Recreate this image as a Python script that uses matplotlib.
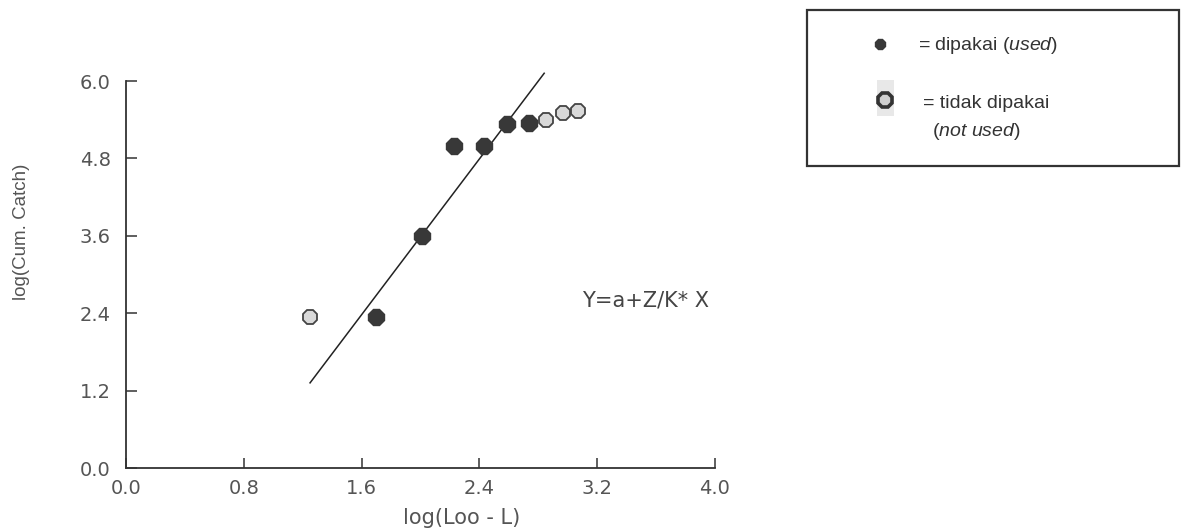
import matplotlib
matplotlib.use("Agg")
import matplotlib.pyplot as plt
from matplotlib.patches import Rectangle
from matplotlib.lines import Line2D

plt.rcParams['font.family'] = ['DejaVu Sans']
plt.rcParams['mathtext.fontset'] = 'custom'
plt.rcParams['mathtext.rm'] = 'Liberation Sans'
plt.rcParams['mathtext.it'] = 'Liberation Sans:italic'

# data
x_used = [1.70, 2.01, 2.23, 2.43, 2.59, 2.74]
y_used = [2.34, 3.60, 4.99, 4.99, 5.34, 5.35]
x_not_used = [1.25, 2.85, 2.97, 3.07]
y_not_used = [2.34, 5.39, 5.51, 5.54]
fit_x = [1.25, 2.84]
fit_y = [1.32, 6.12]
x_ticks = [0.0, 0.8, 1.6, 2.4, 3.2, 4.0]
y_ticks = [0.0, 1.2, 2.4, 3.6, 4.8, 6.0]
x_label = "log(Loo - L)"
y_label = "log(Cum. Catch)"
equation = "Y=a+Z/K* X"
legend_used = "= dipakai ($\\it{used}$)"
legend_not1 = "= tidak dipakai"
legend_not2 = "($\\it{not\\ used}$)"

W, H = 1181, 532
fig = plt.figure(figsize=(W / 100, H / 100), dpi=100)
ax = fig.add_axes([126 / W, 1 - 468 / H, (715 - 126) / W, (468 - 81) / H])

axc = '#333333'
txtc = '#555555'
ax.plot(fit_x, fit_y, color='#222222', lw=1.1, clip_on=False, zorder=2)
ax.plot(x_used, y_used, linestyle='none', marker='8', markersize=12,
        markerfacecolor='#383838', markeredgecolor='#383838', zorder=3, clip_on=False)
ax.plot(x_not_used, y_not_used, linestyle='none', marker='8', markersize=11,
        markerfacecolor='#d9d9d9', markeredgecolor='#444444', markeredgewidth=1.3,
        zorder=3, clip_on=False)

ax.text(3.10, 2.60, equation, fontsize=15, color='#444444', va='center', ha='left')

ax.set_xlim(0, 4.0)
ax.set_ylim(0, 6.0)
ax.set_xticks(x_ticks)
ax.set_yticks(y_ticks)
ax.set_xticklabels([f"{v:.1f}" for v in x_ticks])
ax.set_yticklabels([f"{v:.1f}" for v in y_ticks])
for s in ['top', 'right']:
    ax.spines[s].set_visible(False)
for s in ['left', 'bottom']:
    ax.spines[s].set_color(axc)
    ax.spines[s].set_linewidth(1.3)
ax.tick_params(axis='x', direction='in', length=7, width=1.1, color=axc,
               labelsize=14, labelcolor=txtc, pad=8)
ax.tick_params(axis='y', direction='in', length=8, width=1.1, color=axc,
               labelsize=14, labelcolor=txtc, pad=11)
ax.set_xlabel(x_label, fontsize=15, color=txtc)
ax.xaxis.label.set_va('center')
ax.xaxis.set_label_coords(0.57, -0.13)
ax.set_ylabel(y_label, fontsize=13.5, color=txtc, family=['Liberation Sans', 'DejaVu Sans'])
ax.yaxis.label.set_va('center')
ax.yaxis.set_label_coords(-0.177, 0.61)
ax.patch.set_alpha(0)

# legend box in pixel coordinates
ov = fig.add_axes([0, 0, 1, 1])
ov.set_xlim(0, W)
ov.set_ylim(H, 0)
ov.axis('off')
ov.patch.set_alpha(0)
ov.add_patch(Rectangle((807, 10), 372, 156, fill=False, edgecolor='#333333', lw=1.6))
ov.add_patch(Rectangle((877, 80), 17, 36, facecolor='#e8e8e8', edgecolor='none'))
ov.add_line(Line2D([880], [44], marker='8', markersize=8, color='#383838', linestyle='none'))
ov.add_line(Line2D([885], [100], marker='8', markersize=11, markerfacecolor='#cfcfcf',
                   markeredgecolor='#333333', markeredgewidth=2.6, linestyle='none'))
lf = ['Liberation Sans', 'DejaVu Sans']
ov.text(918, 45, legend_used, fontsize=14, color='#333333', va='center', ha='left', family=lf)
ov.text(923, 103, legend_not1, fontsize=14, color='#333333', va='center', ha='left', family=lf)
ov.text(932, 131, legend_not2, fontsize=14, color='#333333', va='center', ha='left', family=lf)

fig.savefig('out.png', dpi=100)
